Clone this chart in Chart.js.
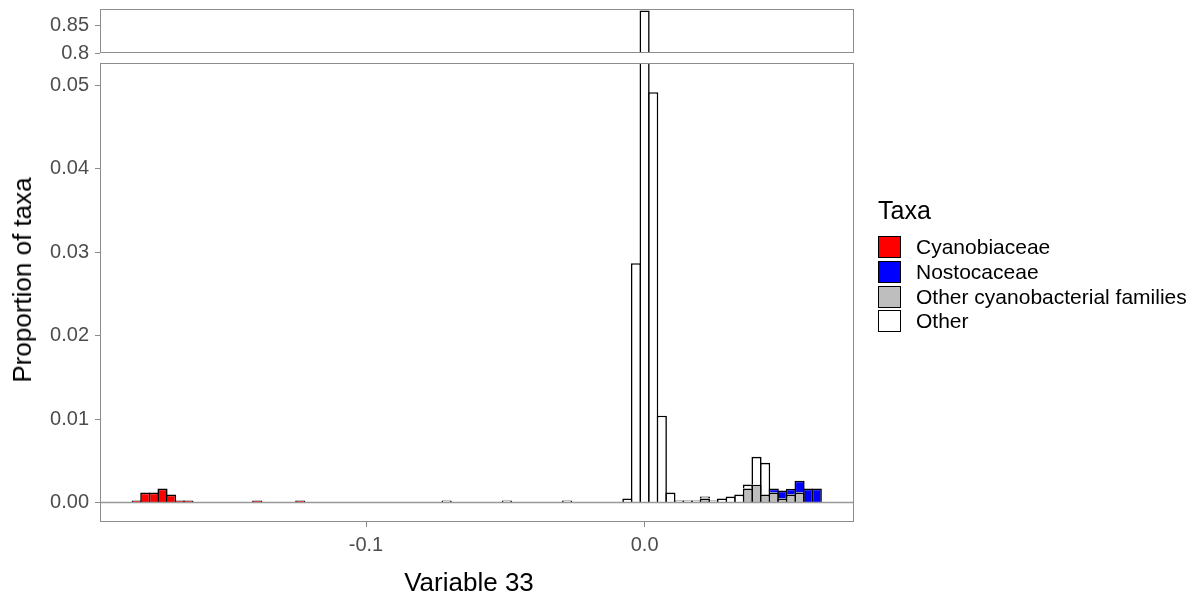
<!DOCTYPE html>
<html>
<head>
<meta charset="utf-8">
<script src="https://cdn.jsdelivr.net/npm/chart.js@4.4.0/dist/chart.umd.min.js"></script>
<style>
  body { margin: 0; background: #fff; font-family: "Liberation Sans", Arial, sans-serif; }
  #wrap { position: relative; width: 1198px; height: 601px; }
  #wrap canvas { position: absolute; left: 0; top: 0; }
  .axis-title { position: absolute; font-size: 26px; color: #000; white-space: nowrap; line-height: 1; }
  #xtitle { left: 469px; top: 582px; transform: translate(-50%, -50%); }
  #ytitle { left: 22px; top: 280px; transform: translate(-50%, -50%) rotate(-90deg); }
  #legend { position: absolute; left: 878px; top: 196px; color: #000; }
  #legend .title { font-size: 25px; height: 39px; }
  #legend .row { height: 24.7px; display: flex; align-items: center; font-size: 21px; }
  #legend .key { width: 21px; height: 20px; border: 1.5px solid #000; margin-right: 15px; }
</style>
</head>
<body>
<div id="wrap">
  <canvas id="upper" width="1198" height="601"></canvas>
  <canvas id="lower" width="1198" height="601"></canvas>
  <div class="axis-title" id="xtitle">Variable 33</div>
  <div class="axis-title" id="ytitle">Proportion of taxa</div>
  <div id="legend"></div>
</div>
<script>
// bin midpoints on Variable 33 and proportion of taxa in each bin, per family
var cyanobiaceaeX = [-0.18231, -0.17922, -0.17613, -0.17304, -0.16995, -0.16686, -0.16377, -0.13905, -0.1236];
var cyanobiaceaeY = [0.00024, 0.00119, 0.00119, 0.00167, 0.00095, 0.00024, 0.00024, 0.00024, 0.00024];

var nostocaceaeX = [0.04635, 0.04944, 0.05253, 0.05562, 0.05871, 0.0618];
var nostocaceaeY = [0.00048, 0.00095, 0.00071, 0.00143, 0.00167, 0.00167];

var otherCyanoX = [0.02163, 0.03708, 0.04017, 0.04326, 0.04635, 0.04944, 0.05253, 0.05562];
var otherCyanoY = [0.00048, 0.00167, 0.00214, 0.00095, 0.00119, 0.00048, 0.00095, 0.00119];

var otherX = [-0.07107, -0.04944, -0.02781, -0.00618, -0.00309, 0, 0.00309, 0.00618, 0.00927, 0.01236,
  0.01545, 0.01854, 0.02163, 0.02472, 0.02781, 0.0309, 0.03399, 0.03708, 0.04017, 0.04326];
var otherY = [0.00024, 0.00024, 0.00024, 0.00048, 0.0287, 0.876, 0.0492, 0.0104, 0.00119, 0.00024,
  0.00024, 0.00024, 0.00024, 0.00024, 0.00048, 0.00071, 0.00095, 0.00048, 0.00333, 0.00381];

var xTicks = [-0.1, 0.0];
var yTicksUpper = [0.8, 0.85];
var yTicksLower = [0, 0.01, 0.02, 0.03, 0.04, 0.05];

var legendNames = ["Cyanobiaceae", "Nostocaceae", "Other cyanobacterial families", "Other"];
var legendColors = ["#ff0000", "#0000ff", "#bebebe", "#ffffff"];

Chart.defaults.font.family = '"Liberation Sans", Arial, sans-serif';

function points(xs, ys) {
  return xs.map(function (x, i) { return { x: x, y: ys[i] }; });
}

function makeDatasets() {
  var common = {
    borderColor: "#000",
    borderWidth: 1.6,
    barPercentage: 1.18,
    categoryPercentage: 1
  };
  // stack order from the bottom: grey, blue, white, red
  return [
    Object.assign({ label: "Other cyanobacterial families", data: points(otherCyanoX, otherCyanoY), backgroundColor: "#bebebe" }, common),
    Object.assign({ label: "Nostocaceae", data: points(nostocaceaeX, nostocaceaeY), backgroundColor: "#0000ff" }, common),
    Object.assign({ label: "Other", data: points(otherX, otherY), backgroundColor: "#ffffff" }, common),
    Object.assign({ label: "Cyanobiaceae", data: points(cyanobiaceaeX, cyanobiaceaeY), backgroundColor: "#ff0000" }, common)
  ];
}

// grey frame round the panel, plus the reference line at zero
var panelBox = {
  id: "panelBox",
  afterDatasetsDraw: function (chart, args, opts) {
    var a = chart.chartArea, ctx = chart.ctx;
    ctx.save();
    if (opts.zeroLine) {
      var y0 = chart.scales.y.getPixelForValue(0);
      ctx.strokeStyle = "#999999";
      ctx.lineWidth = 1.4;
      ctx.beginPath();
      ctx.moveTo(a.left, y0);
      ctx.lineTo(a.right, y0);
      ctx.stroke();
    }
    ctx.strokeStyle = "#8c8c8c";
    ctx.lineWidth = 1;
    ctx.strokeRect(a.left + 0.5, a.top + 0.5, a.right - a.left - 1, a.bottom - a.top - 1);
    ctx.restore();
  }
};

var tickFont = { size: 20 };
var tickGrid = { display: true, drawOnChartArea: false, drawTicks: true, tickLength: 5, color: "#8c8c8c", offset: false };

function xScale(show) {
  var s = {
    type: "linear",
    min: -0.19548,
    max: 0.07516,
    offset: false,
    stacked: true,
    display: show,
    grid: tickGrid,
    border: { display: false },
    afterBuildTicks: function (s) { s.ticks = xTicks.map(function (v) { return { value: v }; }); },
    ticks: { font: tickFont, color: "#4d4d4d", padding: 6, maxRotation: 0,
      callback: function (v) { return v.toFixed(1); } }
  };
  if (show) {
    s.afterFit = function (sc) { sc.height = 74; };
  }
  return s;
}

function yScale(min, max, tickValues, fmt) {
  return {
    stacked: true,
    min: min,
    max: max,
    grid: tickGrid,
    border: { display: false },
    afterFit: function (s) { s.width = 100; s.paddingTop = 0; s.paddingBottom = 0; },
    afterBuildTicks: function (s) { s.ticks = tickValues.map(function (v) { return { value: v }; }); },
    ticks: { font: tickFont, color: "#4d4d4d", padding: 6, callback: fmt }
  };
}

var upper = new Chart(document.getElementById("upper"), {
  type: "bar",
  data: { datasets: makeDatasets() },
  options: {
    responsive: false,
    animation: false,
    layout: { padding: { top: 9, right: 344, bottom: 548, left: 0 } },
    plugins: { legend: { display: false }, tooltip: { enabled: false }, panelBox: { zeroLine: false } },
    scales: {
      x: xScale(false),
      y: yScale(0.8, 0.8786, yTicksUpper, function (v) { return String(v); })
    }
  },
  plugins: [panelBox]
});

var lower = new Chart(document.getElementById("lower"), {
  type: "bar",
  data: { datasets: makeDatasets() },
  options: {
    responsive: false,
    animation: false,
    layout: { padding: { top: 63, right: 344, bottom: 5, left: 0 } },
    plugins: { legend: { display: false }, tooltip: { enabled: false }, panelBox: { zeroLine: true } },
    scales: {
      x: xScale(true),
      y: yScale(-0.00234, 0.0527, yTicksLower, function (v) { return v.toFixed(2); })
    }
  },
  plugins: [panelBox]
});

// legend on the right
var legend = document.getElementById("legend");
var html = '<div class="title">Taxa</div>';
legendNames.forEach(function (name, i) {
  html += '<div class="row"><div class="key" style="background:' + legendColors[i] + '"></div>' + name + '</div>';
});
legend.innerHTML = html;
</script>
</body>
</html>
